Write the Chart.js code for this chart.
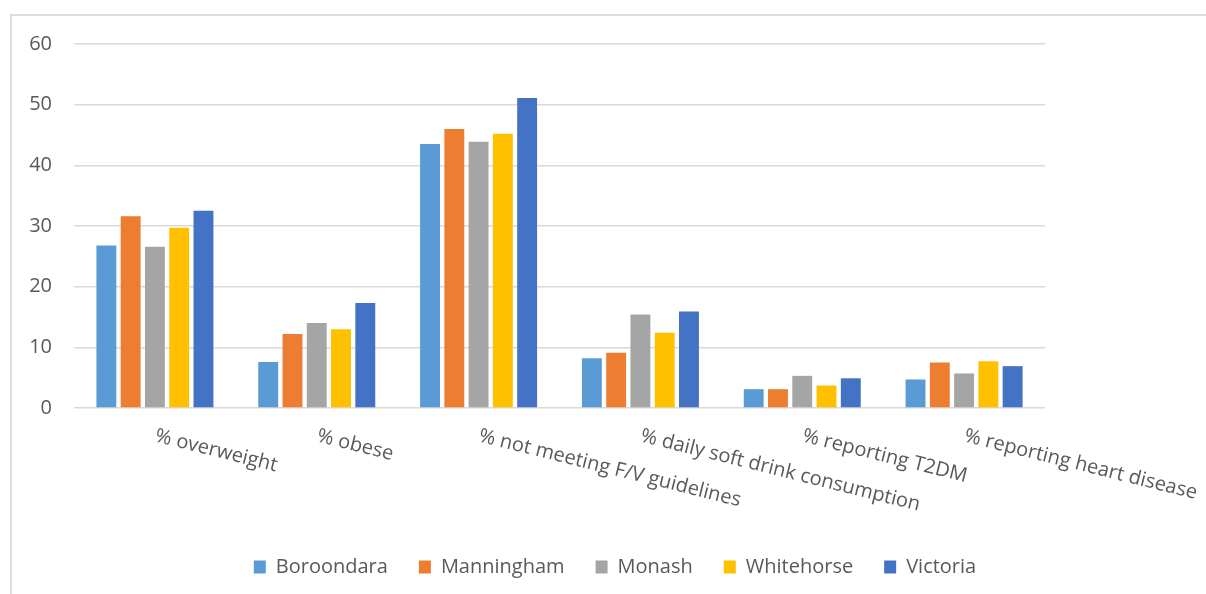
<!DOCTYPE html>
<html>
<head>
<meta charset="utf-8">
<script src="https://cdn.jsdelivr.net/npm/chart.js@4"></script>
<style>
  html, body { margin: 0; padding: 0; background: #fff; }
  #wrap { position: relative; width: 1206px; height: 594px; overflow: hidden; }
  #frame {
    position: absolute; left: 10px; top: 14px; width: 1300px; height: 700px;
    border-left: 2px solid #dedede; border-top: 2px solid #dedede;
  }
  canvas { position: absolute; left: 0; top: 0; }
</style>
</head>
<body>
<div id="wrap">
  <div id="frame"></div>
  <canvas id="barChart" width="1206" height="594"></canvas>
</div>
<script>
// kategori dan nilai per wilayah
const categories = [
  "% overweight",
  "% obese",
  "% not meeting F/V guidelines",
  "% daily soft drink consumption",
  "% reporting T2DM",
  "% reporting heart disease",
];
const boroondara = [26.8, 7.6, 43.5, 8.2, 3.1, 4.7];
const manningham = [31.6, 12.2, 46.0, 9.1, 3.1, 7.5];
const monash = [26.6, 14.0, 43.9, 15.4, 5.3, 5.7];
const whitehorse = [29.7, 13.0, 45.2, 12.4, 3.7, 7.7];
const victoria = [32.5, 17.3, 51.1, 15.9, 4.9, 6.9];
const yTicks = [0, 10, 20, 30, 40, 50, 60];

const FONT = "'Open Sans', 'Noto Sans', sans-serif";
const TEXT = "#595959";

// label sumbu x miring ke kanan bawah (seperti Excel)
const slantedLabels = {
  id: "slantedLabels",
  afterDraw(chart) {
    const ctx = chart.ctx;
    const xScale = chart.scales.x;
    ctx.save();
    ctx.font = "20px " + FONT;
    ctx.fillStyle = TEXT;
    ctx.textAlign = "left";
    ctx.textBaseline = "top";
    categories.forEach((label, i) => {
      const x = xScale.getPixelForValue(i) + 3;
      const y = chart.chartArea.bottom + 18;
      ctx.save();
      ctx.translate(x, y);
      ctx.rotate((14 * Math.PI) / 180);
      ctx.fillText(label, 0, 0);
      ctx.restore();
    });
    ctx.restore();
  },
};

window.onload = () => {
  const ctx = document.getElementById("barChart").getContext("2d");
  const makeSet = (label, data, color) => ({
    label: label,
    data: data,
    backgroundColor: color,
    borderWidth: 0,
    categoryPercentage: 0.75,
    barPercentage: 0.82,
  });

  new Chart(ctx, {
    type: "bar",
    data: {
      labels: categories,
      datasets: [
        makeSet("Boroondara", boroondara, "#5B9BD5"),
        makeSet("Manningham", manningham, "#ED7D31"),
        makeSet("Monash", monash, "#A5A5A5"),
        makeSet("Whitehorse", whitehorse, "#FFC000"),
        makeSet("Victoria", victoria, "#4472C4"),
      ],
    },
    options: {
      responsive: false,
      animation: false,
      layout: {
        padding: { left: 24, right: 0, top: 44, bottom: 7 },
      },
      plugins: {
        tooltip: { enabled: false },
        legend: {
          position: "bottom",
          labels: {
            font: { family: FONT, size: 20 },
            color: TEXT,
            boxWidth: 12,
            boxHeight: 13,
            padding: 31,
          },
        },
      },
      scales: {
        x: {
          ticks: { display: false },
          grid: { display: false },
          border: { display: false },
          afterFit(scale) {
            scale.height = 118;
          },
        },
        y: {
          min: 0,
          max: 60,
          afterBuildTicks(scale) {
            scale.ticks = yTicks.map((v) => ({ value: v }));
          },
          ticks: {
            font: { family: FONT, size: 20 },
            color: TEXT,
            padding: 22,
          },
          grid: {
            color: "#d9d9d9",
            lineWidth: 1.5,
            drawTicks: false,
          },
          border: { display: false },
          afterFit(scale) {
            scale.width = 50;
          },
        },
        // ruang kosong di kanan area plot
        yRight: {
          type: "linear",
          position: "right",
          min: 0,
          max: 60,
          ticks: { display: false },
          grid: { display: false },
          border: { display: false },
          afterFit(scale) {
            scale.width = 161;
          },
        },
      },
    },
    plugins: [slantedLabels],
  });
};
</script>
</body>
</html>
